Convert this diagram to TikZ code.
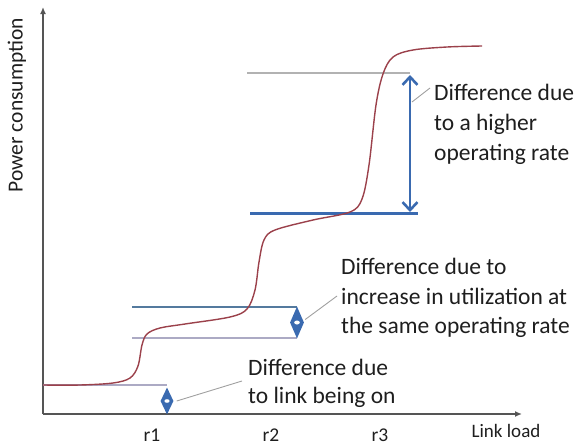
\documentclass[tikz,border=0pt]{standalone}
\usepackage{fontspec}
\setmainfont{Carlito}
\usetikzlibrary{arrows.meta,shapes.geometric}

\definecolor{axisgray}{RGB}{85,85,85}
\definecolor{curvered}{RGB}{155,65,75}
\definecolor{barblue}{RGB}{58,106,176}
\definecolor{steelline}{RGB}{84,122,158}
\definecolor{paleline}{RGB}{172,170,196}
\definecolor{greyline}{RGB}{178,178,178}
\definecolor{leadgray}{RGB}{160,160,160}
\definecolor{textdark}{RGB}{30,30,30}

\tikzset{
  axis/.style={draw=axisgray, line width=1.6pt, -{Latex[length=7pt,width=6pt]}},
  curve/.style={draw=curvered, line width=1.4pt},
  leader/.style={draw=leadgray, line width=0.9pt},
  bigtext/.style={text=textdark, inner sep=0pt, anchor=base west,
    font=\fontsize{23.5}{29}\selectfont},
  ticktext/.style={text=textdark, inner sep=0pt, font=\fontsize{19.5}{22}\selectfont},
  tinyarrow/.style={shape=diamond, fill=barblue, draw=none, inner sep=0pt},
}

\begin{document}
\begin{tikzpicture}[x=1pt,y=-1pt]
\useasboundingbox (0,0) rectangle (580,447);

% axes
\coordinate (O) at (43,414);
\coordinate (ytip) at (43,7);
\coordinate (xtip) at (522,414);
\draw[axis] (O) -- (ytip);
\draw[axis] (O) -- (xtip);

% reference levels
\coordinate (offlvl) at (43,385);
\coordinate (lowA) at (132,338);
\coordinate (lowB) at (297,338);
\coordinate (upA) at (132,307);
\coordinate (upB) at (297,307);
\coordinate (topA) at (247,73);
\coordinate (topB) at (410,73);
\coordinate (midA) at (250,213);
\coordinate (midB) at (418,213);

\draw[paleline, line width=1.1pt] (offlvl) -- (167,385);
\draw[paleline, line width=1.1pt] (lowA) -- (lowB);
\draw[steelline, line width=1.7pt] (upA) -- (upB);
\draw[greyline, line width=2pt] (topA) -- (topB);
\draw[barblue, line width=3pt] (midA) -- (midB);

% power curve
\draw[curve] plot[smooth, tension=0.55] coordinates {
  (43,385) (80,385) (113,383) (130,378) (138,366) (142,345) (147,334)
  (160,328) (185,324) (230,317) (247,309) (255,290) (259,262) (264,240)
  (275,230) (313,220) (350,212) (362,199) (369,165) (376,105) (383,74)
  (393,57) (413,50) (447,47) (482,46)};

% difference markers
\draw[barblue, line width=2.6pt,
  {Straight Barb[length=8pt,width=15pt]}-{Straight Barb[length=8pt,width=15pt]}]
  (410,212) -- (410,75);
\node[tinyarrow, minimum width=13pt, minimum height=27pt] (d1) at (167,401) {};
\node[tinyarrow, minimum width=14pt, minimum height=32pt] (d2) at (297,322.5) {};
\fill[white] (d1.center) ellipse (2.6pt and 1.8pt);
\fill[white] (d2.center) ellipse (2.8pt and 2pt);

% leader lines
\coordinate (lt) at (430,88);
\coordinate (lm) at (337,296);
\coordinate (lb) at (242,381);
\draw[leader] (412,102) -- (lt);
\draw[leader] (d2.east) ++(1,-3) -- (lm);
\draw[leader] (d1.east) ++(3,0) -- (lb);

% annotations
\node[bigtext] (t1) at (434,100) {Difference due};
\node[bigtext] (t2) at (434,130) {to a higher};
\node[bigtext] (t3) at (434,160) {operating rate};

\node[bigtext] (m1) at (341,274) {Difference due to};
\node[bigtext] (m2) at (341,304) {increase in utilization at};
\node[bigtext] (m3) at (341,333) {the same operating rate};

\node[bigtext] (b1) at (248,375) {Difference due};
\node[bigtext] (b2) at (248,403) {to link being on};

% axis labels
\node[text=textdark, rotate=90, inner sep=0pt,
  font=\fontsize{21.5}{24}\selectfont] (ylab) at (17,105) {Power consumption};
\node[text=textdark, inner sep=0pt,
  font=\fontsize{19}{22}\selectfont] (xlab) at (506,431) {Link load};
\node[ticktext] (r1) at (152,435) {r1};
\node[ticktext] (r2) at (271,435) {r2};
\node[ticktext] (r3) at (380,435) {r3};
\end{tikzpicture}
\end{document}
